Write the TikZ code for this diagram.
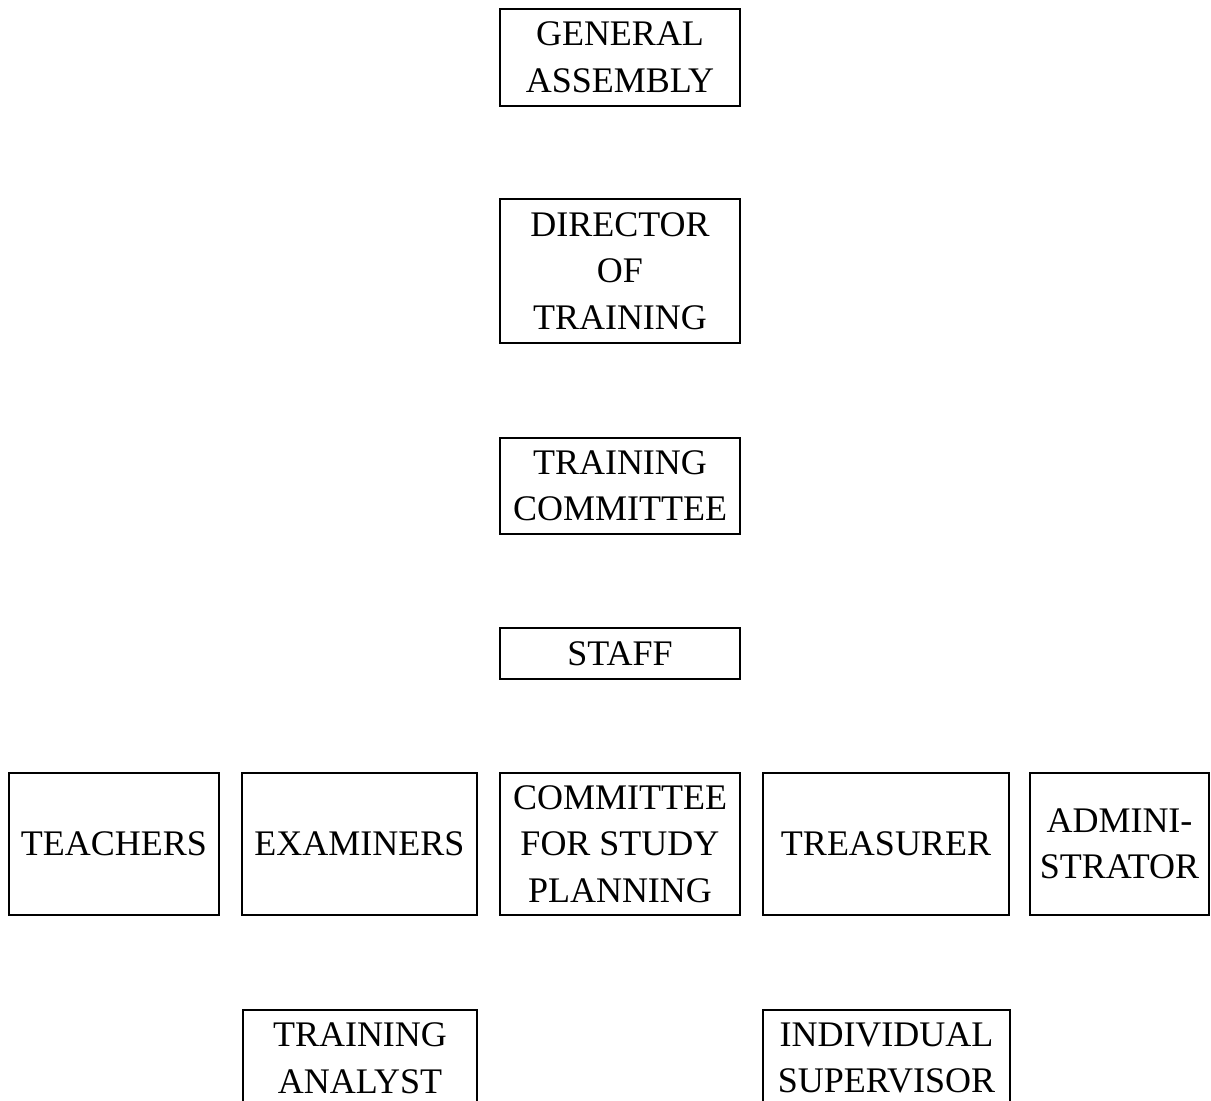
\documentclass[tikz,border=0pt]{standalone}
\usepackage{fontspec}
\setmainfont{Liberation Serif}
\begin{document}
\begin{tikzpicture}[x=1pt,y=-1pt,
  orgbox/.style={draw=black, line width=2pt, inner sep=0pt, align=center,
    font=\fontsize{36}{46.5}\selectfont, text=black}]
\useasboundingbox (0,0) rectangle (1211,1101);
\clip (0,0) rectangle (1211,1101);
\fill[white] (0,0) rectangle (1211,1101);
\node[orgbox, minimum width=240pt, minimum height=97pt] (ga) at (620,57.5) {GENERAL\\ASSEMBLY};
\node[orgbox, minimum width=240pt, minimum height=144pt] (dot) at (620,271) {DIRECTOR\\OF\\TRAINING};
\node[orgbox, minimum width=240pt, minimum height=96pt] (tc) at (620,486) {TRAINING\\COMMITTEE};
\node[orgbox, minimum width=240pt, minimum height=51pt] (staff) at (620,653.5) {STAFF};
\node[orgbox, minimum width=210pt, minimum height=142pt] (teach) at (114,844) {TEACHERS};
\node[orgbox, minimum width=235pt, minimum height=142pt] (exam) at (359.5,844) {EXAMINERS};
\node[orgbox, minimum width=240pt, minimum height=142pt] (csp) at (620,844) {COMMITTEE\\FOR STUDY\\PLANNING};
\node[orgbox, minimum width=246pt, minimum height=142pt] (treas) at (886,844) {TREASURER};
\node[orgbox, minimum width=179pt, minimum height=142pt] (admin) at (1119.5,844) {ADMINI-\\STRATOR};
\node[orgbox, minimum width=234pt, minimum height=96pt] (ta) at (360,1058) {TRAINING\\ANALYST};
\node[orgbox, minimum width=247pt, minimum height=96pt] (is) at (886.5,1058) {INDIVIDUAL\\SUPERVISOR};
\end{tikzpicture}
\end{document}
